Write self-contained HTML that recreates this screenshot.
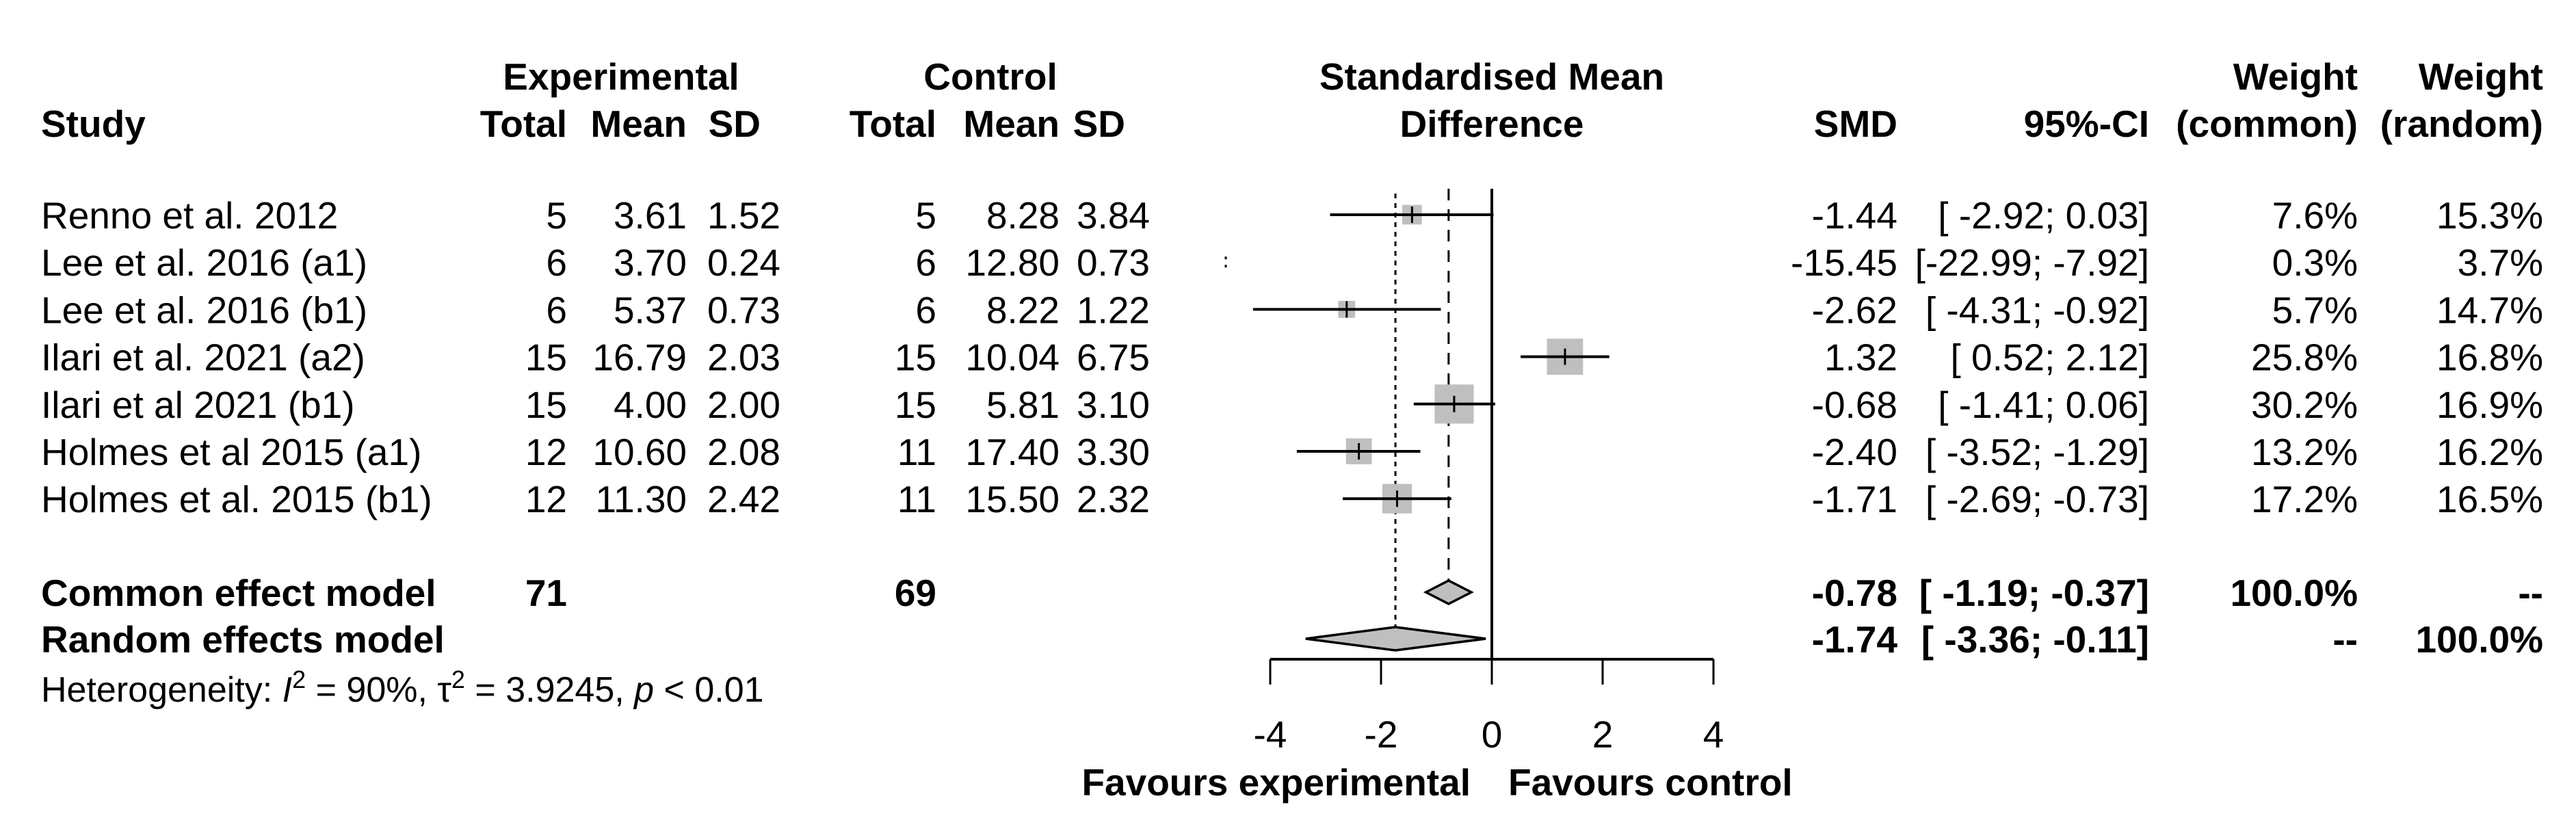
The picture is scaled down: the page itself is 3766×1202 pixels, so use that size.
<!DOCTYPE html>
<html><head><meta charset="utf-8"><style>
html,body{margin:0;padding:0;background:#fff;}
svg{display:block;font-family:"Liberation Sans",Arial,sans-serif;}
text{font-size:55px;fill:#000;}
.b{font-weight:bold;}
</style></head><body>
<svg id="plot" width="3766" height="1202" viewBox="0 0 3766 1202" xmlns="http://www.w3.org/2000/svg">
<g id="headers" class="b">
<text class="b" x="908" y="131" text-anchor="middle">Experimental</text>
<text class="b" x="1448" y="131" text-anchor="middle">Control</text>
<text class="b" x="2181" y="131" text-anchor="middle">Standardised Mean</text>
<text class="b" x="3447" y="131" text-anchor="end">Weight</text>
<text class="b" x="3718" y="131" text-anchor="end">Weight</text>
<text class="b" x="60" y="200">Study</text>
<text class="b" x="829" y="200" text-anchor="end">Total</text>
<text class="b" x="1004" y="200" text-anchor="end">Mean</text>
<text class="b" x="1112" y="200" text-anchor="end">SD</text>
<text class="b" x="1369" y="200" text-anchor="end">Total</text>
<text class="b" x="1549" y="200" text-anchor="end">Mean</text>
<text class="b" x="1645" y="200" text-anchor="end">SD</text>
<text class="b" x="2181" y="200" text-anchor="middle">Difference</text>
<text class="b" x="2774" y="200" text-anchor="end">SMD</text>
<text class="b" x="3142" y="200" text-anchor="end">95%-CI</text>
<text class="b" x="3447" y="200" text-anchor="end">(common)</text>
<text class="b" x="3718" y="200" text-anchor="end">(random)</text>
</g>
<g id="rows"></g>
<g id="marks"></g>
<g id="axis"></g>
<text x="60" y="1026" style="font-size:52px">Heterogeneity: <tspan font-style="italic">I</tspan><tspan dy="-20" style="font-size:36px">2</tspan><tspan dy="20"> = 90%, τ</tspan><tspan dy="-20" style="font-size:36px">2</tspan><tspan dy="20"> = 3.9245, </tspan><tspan font-style="italic">p</tspan> &lt; 0.01</text>
</svg>
<script>
const studies=["Renno et al. 2012","Lee et al. 2016  (a1)","Lee et al. 2016  (b1)","Ilari et al. 2021  (a2)","Ilari et al 2021 (b1)","Holmes et al 2015 (a1)","Holmes et al. 2015 (b1)"];
const expTotal=[5,6,6,15,15,12,12];
const expMean=["3.61","3.70","5.37","16.79","4.00","10.60","11.30"];
const expSD=["1.52","0.24","0.73","2.03","2.00","2.08","2.42"];
const ctrlTotal=[5,6,6,15,15,11,11];
const ctrlMean=["8.28","12.80","8.22","10.04","5.81","17.40","15.50"];
const ctrlSD=["3.84","0.73","1.22","6.75","3.10","3.30","2.32"];
const smd=[-1.44,-15.45,-2.62,1.32,-0.68,-2.40,-1.71];
const lower=[-2.92,-22.99,-4.31,0.52,-1.41,-3.52,-2.69];
const upper=[0.03,-7.92,-0.92,2.12,0.06,-1.29,-0.73];
const wCommon=[7.6,0.3,5.7,25.8,30.2,13.2,17.2];
const wRandom=[15.3,3.7,14.7,16.8,16.9,16.2,16.5];
const pooledNames=["Common effect model","Random effects model"];
const pooledEst=[-0.78,-1.74];
const pooledLo=[-1.19,-3.36];
const pooledHi=[-0.37,-0.11];
const xTicks=[-4,-2,0,2,4];
const NS="http://www.w3.org/2000/svg";
const X0=2181,U=81,XMIN=-4,XMAX=4;
const xs=v=>X0+v*U;
const rowY=i=>314+i*69.2;
function mk(tag,attrs,parent,txt){const e=document.createElementNS(NS,tag);for(const k in attrs)e.setAttribute(k,attrs[k]);if(txt!==undefined)e.textContent=txt;parent.appendChild(e);return e;}
const rows=document.getElementById('rows'),marks=document.getElementById('marks'),axis=document.getElementById('axis');
const f2=v=>v.toFixed(2);
const ci=(l,h)=>{const a=f2(l),b=f2(h);return "["+(a.length<6?" ".repeat(6-a.length):"")+a+"; "+(b.length<5?" ".repeat(5-b.length):"")+b+"]";};
function cell(x,y,t,anchor,name,bold){const e=mk('text',{x:x,y:y,'text-anchor':anchor,'xml:space':'preserve'},rows,t);if(bold)e.setAttribute('class','b');

return e;}
let l=mk('line',{x1:xs(0),y1:276,x2:xs(0),y2:964,stroke:'#000','stroke-width':4},marks);


l=mk('line',{x1:xs(pooledEst[0]),y1:276,x2:xs(pooledEst[0]),y2:848,stroke:'#000','stroke-width':3,'stroke-dasharray':'17 13'},marks);


l=mk('line',{x1:xs(pooledEst[1]),y1:283,x2:xs(pooledEst[1]),y2:916,stroke:'#000','stroke-width':3,'stroke-dasharray':'7 7'},marks);


studies.forEach((s,i)=>{const y=rowY(i),b=y+20;
cell(60,b,s,'start','study-name');
cell(829,b,String(expTotal[i]),'end','exp-total');
cell(1004,b,expMean[i],'end','exp-mean');
cell(1141,b,expSD[i],'end','exp-sd');
cell(1369,b,String(ctrlTotal[i]),'end','ctrl-total');
cell(1549,b,ctrlMean[i],'end','ctrl-mean');
cell(1681,b,ctrlSD[i],'end','ctrl-sd');
cell(2774,b,f2(smd[i]),'end','smd-value');
cell(3142,b,ci(lower[i],upper[i]),'end','ci-value');
cell(3447,b,wCommon[i].toFixed(1)+"%",'end','weight-common');
cell(3718,b,wRandom[i].toFixed(1)+"%",'end','weight-random');
const g=mk('g',{},marks);


const lo=Math.max(lower[i],XMIN-0.8),hi=Math.min(upper[i],XMAX);
if(upper[i]>=XMIN-0.8){
 const sz=10.4*Math.sqrt(wCommon[i]);
 mk('rect',{x:xs(smd[i])-sz/2,y:y-sz/2,width:sz,height:sz,fill:'#bfbfbf'},g);
 mk('line',{x1:xs(lo),y1:y,x2:xs(hi),y2:y,stroke:'#000','stroke-width':4},g);
 mk('line',{x1:xs(smd[i]),y1:y-12,x2:xs(smd[i]),y2:y+12,stroke:'#000','stroke-width':3},g);
}else{
 const xm=1792;
 mk('rect',{x:xm-1.5,y:y-8,width:3,height:4,fill:'#000'},g);
 mk('rect',{x:xm-1.5,y:y+4,width:3,height:4,fill:'#000'},g);
}
});
const pY=[866,934],tot=[["71","69"],["",""]],pw=[["100.0%","--"],["--","100.0%"]];
pooledNames.forEach((n,k)=>{const y=pY[k],b=y+20;
cell(60,b,n,'start','pooled-model-name',true);
if(tot[k][0]){cell(829,b,tot[k][0],'end','pooled-exp-total',true);cell(1369,b,tot[k][1],'end','pooled-ctrl-total',true);}
cell(2774,b,f2(pooledEst[k]),'end','pooled-smd',true);
cell(3142,b,ci(pooledLo[k],pooledHi[k]),'end','pooled-ci',true);
cell(3447,b,pw[k][0],'end','pooled-weight-common',true);
cell(3718,b,pw[k][1],'end','pooled-weight-random',true);
const d=mk('polygon',{points:`${xs(pooledLo[k])},${y} ${xs(pooledEst[k])},${y-17} ${xs(pooledHi[k])},${y} ${xs(pooledEst[k])},${y+17}`,fill:'#bfbfbf',stroke:'#000','stroke-width':3.5},marks);


});
const ax=mk('line',{x1:xs(XMIN),y1:964,x2:xs(XMAX),y2:964,stroke:'#000','stroke-width':4},axis);


xTicks.forEach(t=>{const tk=mk('line',{x1:xs(t),y1:964,x2:xs(t),y2:1001,stroke:'#000','stroke-width':3},axis);


const tl=mk('text',{x:xs(t),y:1093,'text-anchor':'middle'},axis,String(t));

});
let fe=mk('text',{x:2150,y:1163,'text-anchor':'end',class:'b'},axis,'Favours experimental');


fe=mk('text',{x:2205,y:1163,'text-anchor':'start',class:'b'},axis,'Favours control');


</script>
</body></html>
